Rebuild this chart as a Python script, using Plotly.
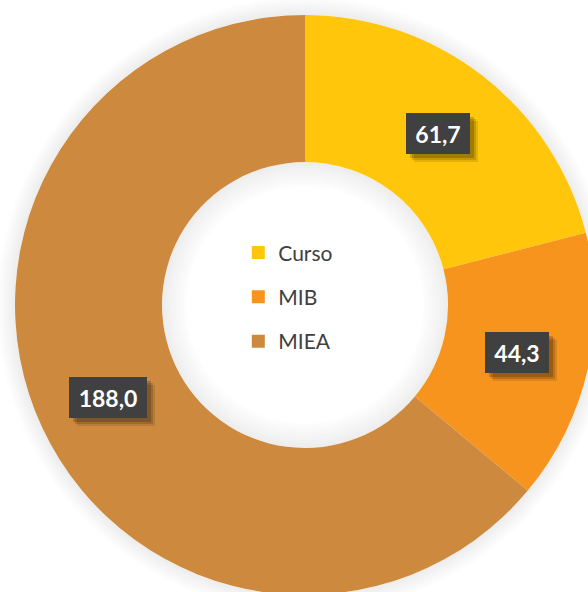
import math
import plotly.graph_objects as go

# Data
categories = ["Curso", "MIB", "MIEA"]
values = [61.7, 44.3, 188.0]
colors = ["#FFC60B", "#F7941E", "#CD8A3F"]

# Layout geometry
W = H = 610
M = 15
PLOT = W - 2 * M
HOLE = 0.493
LABEL_R = 0.75          # value boxes sit at this fraction of the outer radius
OUTER_PX = PLOT / 2


def fmt(v):
    return f"{v:.1f}".replace(".", ",")


fig = go.Figure()

fig.add_trace(go.Pie(
    labels=categories,
    values=values,
    hole=HOLE,
    sort=False,
    direction="clockwise",
    rotation=0,
    marker=dict(colors=colors, line=dict(width=0)),
    textinfo="none",
    hoverinfo="label+value",
    showlegend=False,
    domain=dict(x=[0, 1], y=[0, 1]),
))

# Legend entries (one group each so the gap between entries can be set)
for cat, col in zip(categories, colors):
    fig.add_trace(go.Scatter(
        x=[None], y=[None], mode="markers", name=cat, legendgroup=cat,
        marker=dict(symbol="square", size=13, color=col),
        hoverinfo="skip", showlegend=True,
    ))

# Soft shadow around the ring and inside the hole
shapes = []


def ring(r_px, alpha, width=2):
    r = r_px / PLOT
    return dict(type="circle", xref="paper", yref="paper",
                x0=0.5 - r, x1=0.5 + r, y0=0.5 - r, y1=0.5 + r,
                line=dict(color=f"rgba(0,0,0,{alpha:.3f})", width=width),
                fillcolor="rgba(0,0,0,0)", layer="below")


for k in range(9):
    shapes.append(ring(OUTER_PX + 1 + 2 * k, 0.07 * (1 - k / 9)))
inner_px = OUTER_PX * HOLE
for k in range(13):
    shapes.append(ring(inner_px - 1 - 2 * k, 0.07 * (1 - k / 13)))

# Value boxes at the middle of each slice
annotations = []
total = sum(values)
start = 0.0
for v in values:
    mid = start + v / 2
    start += v
    theta = 2 * math.pi * mid / total
    x = 0.5 + 0.5 * LABEL_R * math.sin(theta)
    y = 0.5 + 0.5 * LABEL_R * math.cos(theta)
    label = fmt(v)
    bw = 14 * len(label) + 8
    bh = 41
    common = dict(x=x, y=y, xref="paper", yref="paper", showarrow=False,
                  xanchor="center", yanchor="middle",
                  width=bw, height=bh, borderpad=0, borderwidth=0)
    for s, a in [(8, 0.10), (6, 0.14), (4, 0.18)]:
        annotations.append(dict(
            text=" ", bgcolor=f"rgba(0,0,0,{a})", xshift=s, yshift=-s,
            **common,
        ))
    annotations.append(dict(
        text=label, bgcolor="#404040",
        font=dict(family="Lato", size=23, color="white", weight="bold"),
        **common,
    ))

fig.update_layout(
    width=W, height=H,
    margin=dict(l=M, r=M, t=M, b=M),
    paper_bgcolor="white",
    plot_bgcolor="rgba(0,0,0,0)",
    xaxis=dict(visible=False),
    yaxis=dict(visible=False),
    showlegend=True,
    legend=dict(
        x=0.385, y=0.514, xanchor="left", yanchor="middle",
        font=dict(family="Lato", size=21, color="#404040"),
        tracegroupgap=14, bgcolor="rgba(0,0,0,0)",
    ),
    shapes=shapes,
    annotations=annotations,
)

fig.write_html(
    "out.html",
    config={"displayModeBar": False},
    post_script="document.documentElement.style.overflow='hidden';"
                "document.body.style.overflow='hidden';",
)
